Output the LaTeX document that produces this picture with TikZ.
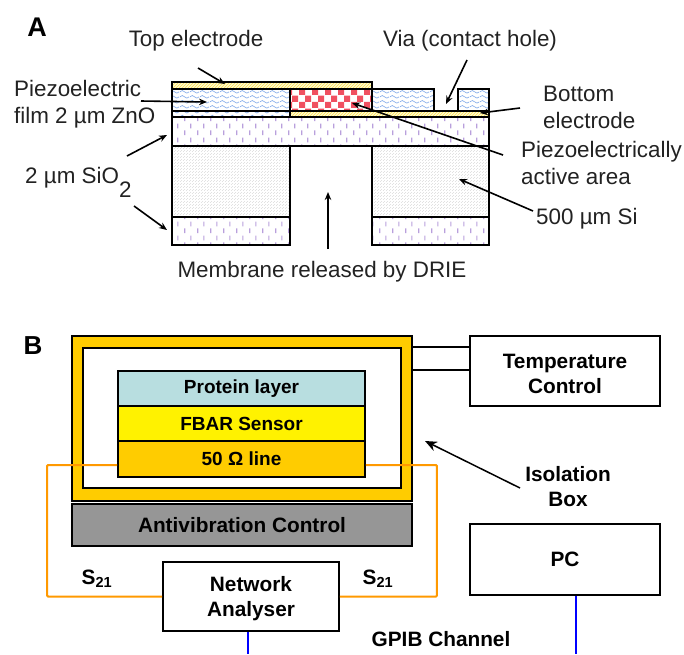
\documentclass[tikz,border=0pt]{standalone}
\usepackage{fontspec}
\setmainfont{Liberation Sans}
\usetikzlibrary{arrows.meta,patterns}

\definecolor{boxorange}{HTML}{FFCC00}
\definecolor{wireorange}{HTML}{FF9900}
\definecolor{proteinblue}{HTML}{B8DEE0}
\definecolor{antigray}{HTML}{969696}
\definecolor{inkdark}{HTML}{222222}
\definecolor{znoblue}{HTML}{7FA8E8}
\definecolor{siopurple}{HTML}{B9A0DC}
\definecolor{checkred}{HTML}{F05060}

% fill textures of the layers
\pgfdeclarepatternformonly{znowave}{\pgfpointorigin}{\pgfqpoint{10pt}{5pt}}{\pgfqpoint{10pt}{5pt}}{
	\pgfsetlinewidth{0.7pt}
	\pgfpathmoveto{\pgfqpoint{0pt}{2.5pt}}
	\pgfpathcurveto{\pgfqpoint{2pt}{4.5pt}}{\pgfqpoint{3pt}{4.5pt}}{\pgfqpoint{5pt}{2.5pt}}
	\pgfpathcurveto{\pgfqpoint{7pt}{0.5pt}}{\pgfqpoint{8pt}{0.5pt}}{\pgfqpoint{10pt}{2.5pt}}
	\pgfusepath{stroke}
}
\pgfdeclarepatternformonly{siodash}{\pgfpointorigin}{\pgfqpoint{13pt}{14pt}}{\pgfqpoint{13pt}{14pt}}{
	\pgfsetlinewidth{1.3pt}
	\pgfpathmoveto{\pgfqpoint{3pt}{1pt}}
	\pgfpathlineto{\pgfqpoint{3pt}{6pt}}
	\pgfpathmoveto{\pgfqpoint{9.5pt}{8pt}}
	\pgfpathlineto{\pgfqpoint{9.5pt}{13pt}}
	\pgfusepath{stroke}
}
\pgfdeclarepatternformonly{activecheck}{\pgfpointorigin}{\pgfqpoint{13pt}{13pt}}{\pgfqpoint{13pt}{13pt}}{
	\pgfpathrectangle{\pgfqpoint{0pt}{0pt}}{\pgfqpoint{6.5pt}{6.5pt}}
	\pgfpathrectangle{\pgfqpoint{6.5pt}{6.5pt}}{\pgfqpoint{6.5pt}{6.5pt}}
	\pgfusepath{fill}
}
\pgfdeclarepatternformonly{sidots}{\pgfpointorigin}{\pgfqpoint{2.6pt}{2.6pt}}{\pgfqpoint{2.6pt}{2.6pt}}{
	\pgfpathcircle{\pgfqpoint{0.65pt}{0.65pt}}{0.35pt}
	\pgfpathcircle{\pgfqpoint{1.95pt}{1.95pt}}{0.35pt}
	\pgfusepath{fill}
}

\tikzset{
	layer/.style={draw=black, line width=1.7pt},
	znolayer/.style={layer, pattern=znowave, pattern color=znoblue},
	siolayer/.style={layer, pattern=siodash, pattern color=siopurple},
	silayer/.style={layer, pattern=sidots, pattern color=black!32},
	electrode/.style={layer, preaction={fill=yellow!18}, pattern=north east lines, pattern color=yellow!60!orange!70},
	lab/.style={font=\fontsize{22.4}{27}\selectfont, text=inkdark, align=left, inner sep=0pt},
	lead/.style={-{Stealth[length=8pt,width=6.5pt]}, line width=1.6pt, black},
	boxb/.style={draw=black, line width=1.8pt, font=\fontsize{20.8}{25}\selectfont\bfseries, align=center, inner sep=0pt},
	stacktext/.style={font=\fontsize{19}{25}\selectfont\bfseries},
	wire/.style={wireorange, line width=2pt, rounded corners=1pt},
	gpib/.style={blue, line width=2.2pt},
}

\begin{document}
\begin{tikzpicture}[x=1pt,y=-1pt]
		\useasboundingbox (0,0) rectangle (684,654);
		
		% Panel A: the layer stack
		\draw[znolayer] (172,89) rectangle (434,111);
		\draw[znolayer] (458,89) rectangle (489,111);
		\draw[znolayer] (172,111) rectangle (290,117);
		\draw[layer, fill=white] (290,89) rectangle (372,111);
		\draw[layer, pattern=activecheck, pattern color=checkred] (290,89) rectangle (372,111);
		\draw[electrode] (172,82) rectangle (372,89);
		\draw[electrode] (290,111) rectangle (489,117);
		\draw[siolayer] (172,117) rectangle (489,146);
		\draw[silayer] (172,146) rectangle (290,217);
		\draw[silayer] (372,146) rectangle (489,217);
		\draw[siolayer] (172,217) rectangle (290,245);
		\draw[siolayer] (372,217) rectangle (489,245);
		
		% Panel A: labels
		\node[font=\fontsize{27}{27}\selectfont\bfseries] (panelA) at (37,27) {A};
		\node[lab] (topLabel) at (196,41) {Top electrode};
		\node[lab] (viaLabel) at (470,41) {Via (contact hole)};
		\node[lab, anchor=west] (znoLabel) at (14,104.5) {Piezoelectric\\film 2 µm ZnO};
		\node[lab, anchor=west] (bottomLabel) at (543,107.5) {Bottom\\electrode};
		\node[lab, anchor=west] (activeLabel) at (521,162.5) {Piezoelectrically\\active area};
		\node[lab, anchor=west] (siLabel) at (536,219) {500 µm Si};
		\node[lab, anchor=base west] (sioLabel) at (25,183) {2 µm SiO\raisebox{-14pt}{2}};
		\node[lab] (drieLabel) at (322,272) {Membrane released by DRIE};
		
		% Panel A: arrows from the labels into the stack
		\coordinate (topFrom) at (198,68);
		\coordinate (topTo) at (225,84);
		\coordinate (znoFrom) at (141,101);
		\coordinate (znoTo) at (207,102);
		\coordinate (sioUpFrom) at (127,156);
		\coordinate (sioUpTo) at (167,135);
		\coordinate (sioDownFrom) at (134,206);
		\coordinate (sioDownTo) at (167,230);
		\coordinate (drieFrom) at (328,249);
		\coordinate (drieTo) at (328,192);
		\coordinate (viaFrom) at (467,60);
		\coordinate (viaTo) at (446,104);
		\coordinate (bottomFrom) at (520,108);
		\coordinate (bottomTo) at (480,113);
		\coordinate (activeFrom) at (503,155);
		\coordinate (activeTo) at (352,103);
		\coordinate (siFrom) at (533,211);
		\coordinate (siTo) at (459,179);
		\foreach \from/\to in {topFrom/topTo, znoFrom/znoTo, sioUpFrom/sioUpTo, sioDownFrom/sioDownTo, drieFrom/drieTo, viaFrom/viaTo, bottomFrom/bottomTo, activeFrom/activeTo, siFrom/siTo}
			\draw[lead] (\from) -- (\to);
		
		% Panel B: isolation box and sensor stack
		\node[font=\fontsize{26}{26}\selectfont\bfseries] (panelB) at (33,346) {B};
		\node[boxb, fill=boxorange, minimum width=340pt, minimum height=165pt] (isoOuter) at (242,418.5) {};
		\node[boxb, fill=white, minimum width=318pt, minimum height=140pt] (isoInner) at (242,418) {};
		\node[boxb, stacktext, fill=proteinblue, minimum width=247pt, minimum height=35pt] (protein) at (241.5,388.5) {Protein layer};
		\node[boxb, stacktext, fill=yellow, minimum width=247pt, minimum height=35pt] (fbar) at (241.5,423.5) {FBAR Sensor};
		\node[boxb, stacktext, fill=boxorange, minimum width=247pt, minimum height=36pt] (line50) at (241.5,459) {50 Ω line};
		\node[boxb, fill=antigray, minimum width=340pt, minimum height=42pt] (antivib) at (242,525) {Antivibration Control};
		
		% Panel B: instruments
		\node[boxb, minimum width=190pt, minimum height=70pt] (temp) at (565,371) {\rule{0pt}{20pt}Temperature\\Control};
		\node[boxb, minimum width=190pt, minimum height=71pt] (pc) at (565,559.5) {PC};
		\node[boxb, fill=white, minimum width=176pt, minimum height=69pt] (network) at (251,596.5) {\rule{0pt}{20pt}Network\\Analyser};
		
		% Panel B: free labels
		\node[boxb, draw=none] (isoLabel) at (568,486.5) {Isolation\\Box};
		\node[boxb, draw=none] (gpibLabel) at (441,639) {GPIB Channel};
		\node[boxb, draw=none] (sLeft) at (97,579) {S$_{\mathbf{21}}$};
		\node[boxb, draw=none] (sRight) at (378,579) {S$_{\mathbf{21}}$};
		
		% Panel B: connections
		\draw[black, line width=1.7pt] (isoOuter.east |- isoInner.north) -- (temp.west |- isoInner.north);
		\draw[black, line width=1.7pt] (isoOuter.east |- protein.north) -- (temp.west |- protein.north);
		\draw[wire] ([yshift=-6pt]line50.west) -- ++(-70,0) |- (network.west);
		\draw[wire] ([yshift=-6pt]line50.east) -- ++(71,0) |- (network.east);
		\coordinate (netDown) at (248,654);
		\coordinate (pcDown) at (576,654);
		\draw[gpib] (network.south -| netDown) -- (netDown);
		\draw[gpib] (pc.south -| pcDown) -- (pcDown);
		\coordinate (isoFrom) at (520,488);
		\coordinate (isoTo) at (425,441);
		\draw[-{Stealth[length=12pt,width=10pt]}, line width=1.5pt] (isoFrom) -- (isoTo);
		
	\end{tikzpicture}
\end{document}
